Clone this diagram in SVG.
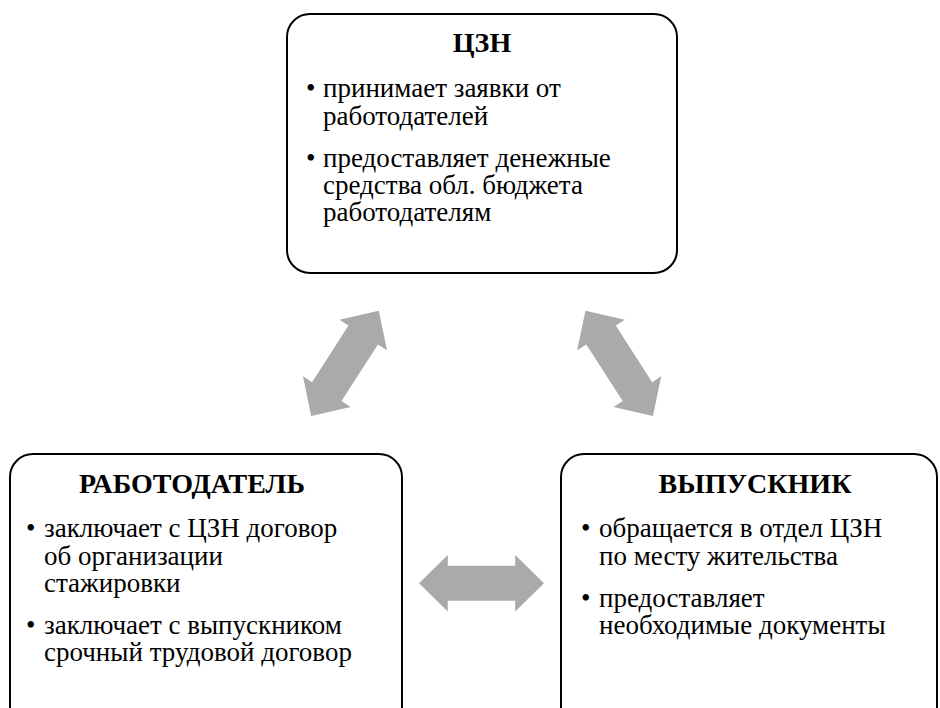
<svg xmlns="http://www.w3.org/2000/svg" width="940" height="708" viewBox="0 0 940 708" font-family="serif">
<style>
.nodebox{fill:#ffffff;stroke:#000000;stroke-width:2}
.arrow{fill:#aaaaaa}
</style>
<rect width="940" height="708" fill="#ffffff"/>
<g id="connectors">
<path class="arrow" transform="translate(345,363.3) rotate(-57.3)" d="M-62.5,0 L-33.7,-28.3 L-33.7,-17.5 L33.7,-17.5 L33.7,-28.3 L62.5,0 L33.7,28.3 L33.7,17.5 L-33.7,17.5 L-33.7,28.3 Z"/>
<path class="arrow" transform="translate(619.2,363.3) rotate(57.3)" d="M-62.5,0 L-33.7,-28.3 L-33.7,-17.5 L33.7,-17.5 L33.7,-28.3 L62.5,0 L33.7,28.3 L33.7,17.5 L-33.7,17.5 L-33.7,28.3 Z"/>
<path class="arrow" transform="translate(481.5,583.3)" d="M-62.5,0 L-33.7,-28.3 L-33.7,-17.5 L33.7,-17.5 L33.7,-28.3 L62.5,0 L33.7,28.3 L33.7,17.5 L-33.7,17.5 L-33.7,28.3 Z"/>
</g>
<g id="czn">
<rect class="nodebox" x="287" y="14" width="390" height="259" rx="23"/>
<text font-family="serif" font-weight="bold" text-anchor="middle" font-size="28" x="482" y="52">ЦЗН</text>
<text font-family="serif" font-size="27" x="306" y="97">•</text>
<text font-family="serif" font-size="27" x="323" y="97">принимает заявки от</text>
<text font-family="serif" font-size="27" x="323" y="124.5">работодателей</text>
<text font-family="serif" font-size="27" x="306" y="166.5">•</text>
<text font-family="serif" font-size="27" x="323" y="166.5">предоставляет денежные</text>
<text font-family="serif" font-size="27" x="323" y="194">средства обл. бюджета</text>
<text font-family="serif" font-size="27" x="323" y="221">работодателям</text>
</g>
<g id="employer">
<rect class="nodebox" x="10" y="454" width="392" height="290" rx="23"/>
<text font-family="serif" font-weight="bold" text-anchor="middle" font-size="28" x="192" y="493">РАБОТОДАТЕЛЬ</text>
<text font-family="serif" font-size="27" x="26" y="537">•</text>
<text font-family="serif" font-size="27" x="44" y="537">заключает с ЦЗН договор</text>
<text font-family="serif" font-size="27" x="44" y="564.5">об организации</text>
<text font-family="serif" font-size="27" x="44" y="592">стажировки</text>
<text font-family="serif" font-size="27" x="26" y="633.5">•</text>
<text font-family="serif" font-size="27" x="44" y="633.5">заключает с выпускником</text>
<text font-family="serif" font-size="27" x="44" y="661">срочный трудовой договор</text>
</g>
<g id="graduate">
<rect class="nodebox" x="561" y="454" width="376" height="290" rx="23"/>
<text font-family="serif" font-weight="bold" text-anchor="middle" font-size="28" x="755" y="493">ВЫПУСКНИК</text>
<text font-family="serif" font-size="27" x="581" y="537">•</text>
<text font-family="serif" font-size="27" x="599" y="537">обращается в отдел ЦЗН</text>
<text font-family="serif" font-size="27" x="599" y="564.5">по месту жительства</text>
<text font-family="serif" font-size="27" x="581" y="606.5">•</text>
<text font-family="serif" font-size="27" x="599" y="606.5">предоставляет</text>
<text font-family="serif" font-size="27" x="599" y="634">необходимые документы</text>
</g>
</svg>
